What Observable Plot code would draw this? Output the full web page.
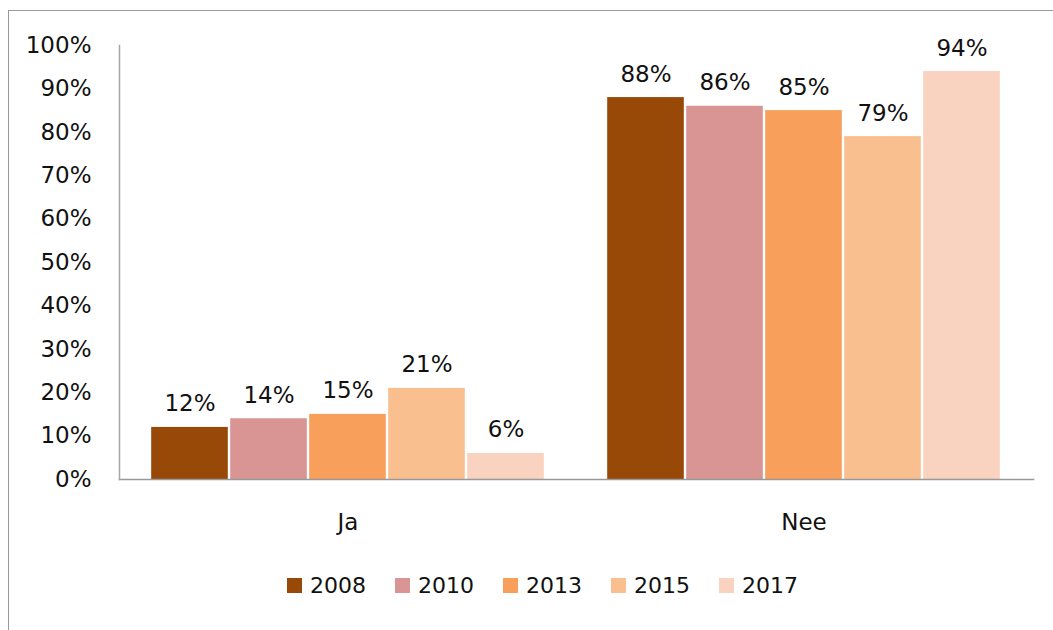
<!DOCTYPE html>
<html>
<head>
<meta charset="utf-8">
<script src="https://cdn.jsdelivr.net/npm/d3@7"></script>
<script src="https://cdn.jsdelivr.net/npm/@observablehq/plot@0.6"></script>
<style>
  html, body { margin: 0; padding: 0; background: #fff; overflow: hidden; width: 1053px; height: 630px; }
  #frame { position: absolute; left: 8px; top: 10px; width: 1100px; height: 700px; border: 1.5px solid #999; box-sizing: border-box; }
  #chart { position: absolute; left: 0; top: 0; }
  #legend { position: absolute; left: 287px; top: 573px; display: flex; align-items: center; font-family: "DejaVu Sans", sans-serif; font-size: 22px; color: #111; }
  .item { display: flex; align-items: center; margin-right: 29px; }
  .sw { width: 15px; height: 15px; margin-right: 8px; }
</style>
</head>
<body>
<div id="frame"></div>
<div id="chart"></div>
<div id="legend"></div>
<script>
const categories = ["Ja", "Nee"];
const years = ["2008", "2010", "2013", "2015", "2017"];
const jaValues = [12, 14, 15, 21, 6];
const neeValues = [88, 86, 85, 79, 94];
const colors = ["#984807", "#D99594", "#F79F5B", "#FABF8F", "#F9D2C0"];
const yTicks = [0, 10, 20, 30, 40, 50, 60, 70, 80, 90, 100];

const seriesByCategory = {Ja: jaValues, Nee: neeValues};
const data = [];
for (const c of categories) {
  years.forEach((yr, i) => data.push({category: c, year: yr, value: seriesByCategory[c][i]}));
}

const chart = Plot.plot({
  width: 1053,
  height: 560,
  marginLeft: 120,
  marginRight: 22,
  marginTop: 45,
  marginBottom: 81,
  style: {fontFamily: "DejaVu Sans, sans-serif", fontSize: "23px", color: "#111", background: "transparent"},
  fx: {domain: categories, paddingInner: 0.13, paddingOuter: 0.062, label: null, tickSize: 0, tickPadding: 34},
  x: {domain: years, padding: 0, axis: null},
  y: {domain: [0, 100], ticks: yTicks, tickFormat: d => d + "%", tickSize: 0, tickPadding: 58, label: null},
  color: {domain: years, range: colors},
  marks: [
    Plot.barY(data, {fx: "category", x: "year", y: "value", fill: "year", insetLeft: 1.2, insetRight: 1.2}),
    Plot.text(data, {fx: "category", x: "year", y: "value", text: d => d.value + "%", lineAnchor: "bottom", dy: -16, fill: "#111", fontSize: 23}),
    Plot.frame({anchor: "bottom", facet: "super", stroke: "#999", strokeWidth: 1.5, insetLeft: -30, insetRight: -31}),
    Plot.frame({anchor: "left", facet: "super", stroke: "#a6a6a6", strokeWidth: 1.5, insetLeft: -30})
  ]
});
document.getElementById("chart").appendChild(chart);

const legend = document.getElementById("legend");
years.forEach((yr, i) => {
  const item = document.createElement("div");
  item.className = "item";
  const sw = document.createElement("div");
  sw.className = "sw";
  sw.style.background = colors[i];
  const label = document.createElement("span");
  label.textContent = yr;
  item.appendChild(sw);
  item.appendChild(label);
  legend.appendChild(item);
});
</script>
</body>
</html>
